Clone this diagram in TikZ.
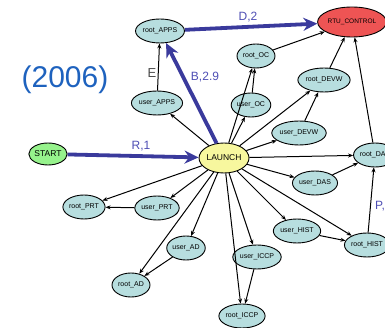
\documentclass[tikz,border=0pt]{standalone}
\usepackage{fontspec}
\setmainfont{Liberation Sans}
\usetikzlibrary{arrows.meta,shapes.geometric}
\definecolor{statefill}{HTML}{B7DEDF}
\definecolor{launchfill}{HTML}{F7F79E}
\definecolor{startfill}{HTML}{96F28C}
\definecolor{rtufill}{HTML}{EE5454}
\definecolor{flowblue}{HTML}{3A3A9C}
\definecolor{flowlabel}{HTML}{4E4EB4}
\definecolor{yearblue}{HTML}{1E62BE}
\tikzset{
  state/.style={ellipse, draw=black, line width=0.9pt, fill=statefill,
    minimum width=38pt, minimum height=24pt, inner sep=0pt,
    font=\fontsize{7}{8}\selectfont},
  link/.style={draw=black, line width=1pt, -{Stealth[length=5pt,width=4pt]}},
  flow/.style={draw=flowblue, line width=3.8pt, -{Stealth[length=14pt,width=13pt]}},
  flowtext/.style={text=flowlabel, font=\fontsize{12}{12}\selectfont},
}
\begin{document}
\begin{tikzpicture}[x=1pt,y=1pt]
\useasboundingbox (0,0) rectangle (385,-328);
\clip (0,0) rectangle (385,-328);

% states
\node[state] (rootAPPS) at (160,-31) {root\_APPS};
\node[state] (userAPPS) at (157,-103) {user\_APPS};
\node[state, fill=startfill, minimum height=22pt, font=\fontsize{8.5}{9}\selectfont] (start) at (48,-154) {START};
\node[state, fill=launchfill, minimum width=50pt, minimum height=30pt, font=\fontsize{8.5}{9}\selectfont] (launch) at (224,-158) {LAUNCH};
\node[state, fill=rtufill, minimum width=52pt, minimum height=30pt, font=\fontsize{6.5}{7}\selectfont] (rtu) at (352,-22) {RTU\_CONTROL};
\node[state] (rootOC) at (256,-56) {root\_OC};
\node[state] (userOC) at (251,-105) {user\_OC};
\node[state] (rootDEVW) at (324,-80) {root\_DEVW};
\node[state] (userDEVW) at (299,-133) {user\_DEVW};
\node[state] (rootDAS) at (375,-155) {root\_DAS};
\node[state] (userDAS) at (315,-183) {user\_DAS};
\node[state] (userHIST) at (297,-231) {user\_HIST};
\node[state] (rootHIST) at (367,-245) {root\_HIST};
\node[state] (userICCP) at (257,-257) {user\_ICCP};
\node[state] (rootICCP) at (242,-316) {root\_ICCP};
\node[state] (rootPRT) at (84,-207) {root\_PRT};
\node[state] (userPRT) at (157,-208) {user\_PRT};
\node[state] (userAD) at (186,-248) {user\_AD};
\node[state] (rootAD) at (131,-285) {root\_AD};

% ordinary transitions
\draw[link] (userAPPS) -- (rootAPPS);
\draw[link] (launch) -- (userAPPS);
\draw[link] (launch) -- (rootOC);
\draw[link] (launch) -- (userOC);
\draw[link] (userOC) -- (rootOC);
\draw[link] (rootOC) -- (rtu);
\draw[link] (launch) -- (rootDEVW);
\draw[link] (launch) -- (userDEVW);
\draw[link] (userDEVW) -- (rootDEVW);
\draw[link] (rootDEVW) -- (rtu);
\draw[link] (rootDAS) -- (rtu);
\draw[link] (launch) -- (rootDAS);
\draw[link] (launch) -- (userDAS);
\draw[link] (userDAS) -- (rootDAS);
\draw[link] (launch) -- (userHIST);
\draw[link] (launch) -- (rootHIST);
\draw[link] (userHIST) -- (rootHIST);
\draw[link] (rootHIST) -- (rootDAS);
\draw[link] (launch) -- (userICCP);
\draw[link] (launch) -- (rootICCP);
\draw[link] (userICCP) -- (rootICCP);
\draw[link] (launch) -- (rootPRT);
\draw[link] (launch) -- (userPRT);
\draw[link] (userPRT) -- (rootPRT);
\draw[link] (launch) -- (userAD);
\draw[link] (launch) -- (rootAD);
\draw[link] (userAD) -- (rootAD);

% highlighted path
\draw[flow] (start) -- (launch);
\draw[flow] (launch) -- (rootAPPS);
\draw[flow] (rootAPPS) -- (rtu);

% labels
\node[flowtext] (lR) at (141,-146) {R,1};
\node[flowtext] (lB) at (205,-77) {B,2.9};
\node[flowtext] (lD) at (248,-17) {D,2};
\node[flowtext] (lP) at (380,-206) {P,};
\node[text=black!70, font=\fontsize{13}{13}\selectfont] (lE) at (152,-73) {E};
\node[text=yearblue, font=\fontsize{30}{30}\selectfont] (year) at (65,-80) {(2006)};
\end{tikzpicture}
\end{document}
